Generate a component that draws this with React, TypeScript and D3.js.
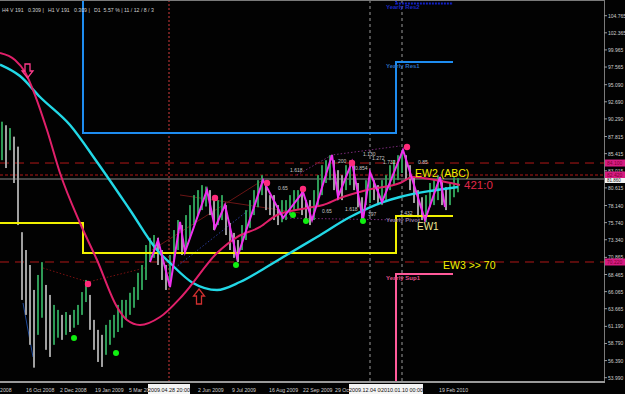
import React from 'react';
import * as d3 from 'd3';

// ---------- DATA ----------
const barHigh = [
  89.9, 89.4, 89.0, 87.8, 86.4, 74.4, 71.9, 69.8, 66.3, 68.4,
  70.2, 67.0, 65.6, 64.2, 63.5, 62.8, 63.2, 62.8, 63.5, 64.2,
  66.0, 67.7, 65.6, 62.1, 60.7, 60.0, 61.4, 62.1, 62.8, 64.2,
  64.9, 64.9, 65.9, 66.7, 68.7, 69.8, 72.6, 73.6, 74.0, 73.6,
  71.9, 69.8, 71.2, 74.7, 76.1, 75.4, 76.8, 78.2, 79.6, 80.3,
  81.0, 80.8, 80.3, 78.9, 78.9, 79.6, 78.2, 75.7, 74.3, 73.3,
  75.4, 77.5, 78.9, 80.3, 81.7, 82.4, 81.0, 79.6, 79.6, 78.2,
  78.9, 78.9, 79.6, 80.3, 80.3, 80.3, 78.9, 78.9, 80.3, 82.4,
  83.8, 84.5, 85.2, 84.5, 83.1, 82.4, 83.8, 84.5, 83.8, 81.3,
  79.3, 81.7, 82.7, 81.7, 81.0, 81.7, 82.4, 83.8, 84.5, 85.2,
  85.9, 85.2, 83.8, 82.1, 80.3, 79.3, 79.6, 81.3, 81.7, 82.4,
  81.7, 80.7, 81.3, 82.1, 82.0,
];
const barLow = [
  84.5, 83.4, 85.9, 81.3, 75.4, 64.9, 62.8, 58.6, 55.4, 60.0,
  62.4, 57.9, 56.9, 58.6, 59.6, 59.3, 60.0, 60.4, 61.0, 61.4,
  62.8, 64.6, 60.7, 57.9, 56.2, 55.5, 57.2, 58.6, 59.6, 60.4,
  61.0, 62.1, 62.8, 63.8, 64.9, 66.3, 67.7, 70.2, 70.8, 69.8,
  67.7, 66.3, 66.7, 70.2, 71.9, 71.2, 72.2, 73.6, 75.4, 76.8,
  77.5, 78.0, 76.8, 74.7, 75.4, 76.1, 74.0, 71.9, 70.8, 70.2,
  71.9, 73.3, 75.0, 76.8, 77.9, 79.6, 77.5, 76.8, 76.1, 75.4,
  75.8, 76.1, 76.8, 77.5, 77.5, 76.8, 75.8, 75.4, 76.1, 78.2,
  79.6, 81.3, 81.7, 80.3, 78.9, 78.9, 80.3, 81.0, 80.3, 77.9,
  76.1, 78.2, 78.5, 78.9, 78.2, 78.2, 78.9, 80.3, 81.0, 81.7,
  82.7, 81.7, 80.3, 78.5, 76.5, 76.1, 75.8, 77.9, 78.2, 78.9,
  78.2, 77.5, 78.2, 79.3, 80.0,
];

const priceTicks = [104.765, 102.365, 99.965, 97.565, 95.09, 92.69, 90.29, 87.815, 85.415, 83.015, 80.615, 78.14, 75.74, 73.34, 70.865, 68.465, 66.065, 63.665, 61.19, 58.79, 56.39, 53.99];

const dateLabels = ['4 Sep 2008', '16 Oct 2008', '2 Dec 2008', '19 Jan 2009', '5 Mar 2009', '2 Jun 2009', '9 Jul 2009', '16 Aug 2009', '22 Sep 2009', '29 Oct 2009', '19 Feb 2010'];
const dateIdx = [-4.25, 6, 14.5, 23.25, 31.75, 49, 57.5, 66.75, 75.25, 83.25, 109.25];

const cyanIdx = [-0.5, 4.5, 9.5, 17, 23.75, 32, 38.75, 42, 47.75, 53.75, 59.5, 65.75, 72, 78.75, 87, 95.25, 99.5, 107, 114];
const cyanVal = [97.9, 96.3, 93.36, 89.43, 84.24, 77.51, 71.9, 70.08, 67.27, 66.29, 67.41, 69.38, 71.48, 73.73, 76.53, 78.63, 79.34, 80.18, 80.74];

const redMaIdx = [-0.5, 3.25, 5.75, 8.25, 11.25, 14.5, 19.5, 23.75, 28.75, 31.25, 34.5, 39.5, 45.25, 53.75, 58.75, 64.5, 68.75, 76.25, 80.25, 84.5, 91.25, 99.5, 102.75, 108.25, 114.5];
const redMaVal = [99.53, 98.55, 96.87, 93.64, 88.73, 82.7, 75.69, 70.5, 63.91, 62.08, 61.38, 62.5, 65.59, 71.48, 73.72, 75.13, 76.81, 77.79, 78.21, 79.2, 80.32, 81.3, 82.14, 81.72, 81.02];

const zigIdx = [37, 39, 42, 44.5, 45.75, 51.25, 53.25, 55.75, 58.75, 65.25, 70.25, 75.25, 77.5, 82.5, 84, 87.5, 90.25, 92, 95, 100.25, 105.75, 109.5, 110.75];
const zigVal = [70.22, 73.3, 66.71, 75.83, 71.62, 80.32, 74.99, 78.21, 70.78, 81.72, 76.39, 80.04, 76.11, 85.23, 79.34, 84.24, 76.11, 82.84, 78.63, 85.93, 76.11, 82.14, 77.93];

const pinkDotIdx = [21.5, 53.25, 66.25, 75.25, 87.5, 101.25];
const pinkDotVal = [67.13, 79.2, 81.3, 80.46, 84.1, 86.35];
const greenDotIdx = [18, 28.5, 58.5, 72.75, 76, 90.25];
const greenDotVal = [59.56, 57.46, 69.8, 76.81, 75.97, 75.97];

// yearly pivot steps (index of change, level)
const pivotIdx = [-1, 20.25, 98.5, 112.75];
const pivotVal = [75.69, 71.48, 76.67, 76.67];
const res1Val = [112, 88.31, 98.27, 98.27];
const res2Val = [118, 118, 106.48, 106.48];
const sup1Val = [45, 45, 68.54, 68.54];

const levelDash = [84.1, 70.22];
const levelDot = [82.42];
const currentPrice = 81.86;

const vLineIdx = [41.75, 92, 100];
const vLineLabels = ['2009.04.28 20:00', '2009.12.04 00:00', '2010.01.10 00:00'];

const fibText = ['1.618', '0.65', '0.65', '1.618', '397', '1.130', '1.272', '1.732', '200', '0.854', '0.85', '1.432'];
const fibIdx = [72, 69, 80, 85.75, 91.5, 90.25, 92.5, 95.25, 84, 88.25, 104, 99.5];
const fibVal = [82.84, 80.32, 77.09, 77.37, 76.67, 85.09, 84.53, 83.97, 84.1, 83.12, 83.97, 76.81];

const waveText = ['EW2 (ABC)', '421:0', 'EW1', 'EW3 >> 70'];
const waveIdx = [103.25, 115.5, 103.75, 110.25];
const waveVal = [82.14, 80.46, 74.71, 69.24];

export default function App() {
  const W = 625, H = 394, R = 604, B = 381;
  const x = d3.scaleLinear().domain([0, 150.5]).range([2, 604]);
  const y = d3.scaleLinear().domain([53.99, 104.765]).range([377.7, 15.7]);
  const mk = (idx: number[], val: number[], curve: any) =>
    d3.line<number>().x((d) => x(idx[d])).y((d) => y(val[d])).curve(curve)(idx.map((_, i) => i)) || '';
  const step = (val: number[]) =>
    d3.line<number>().x((d) => x(pivotIdx[d])).y((d) => y(val[d])).curve(d3.curveStepAfter)(pivotIdx.map((_, i) => i)) || '';

  const font = 'Liberation Sans, Arial, sans-serif';
  const axisFill = '#cfcfcf';

  const dA = { cx: x(6.375), ty: y(96.03) };
  const uA = { cx: x(49.25), ty: y(66.43) };

  return (
    <svg width={W} height={H} style={{ position: 'absolute', left: 0, top: 0, background: '#000' }} fontFamily={font}>
      <defs>
        <clipPath id="plot"><rect x={0} y={0} width={R} height={B} /></clipPath>
        <clipPath id="xaxis"><rect x={0} y={383} width={R} height={11} /></clipPath>
      </defs>
      <rect x={0} y={0} width={W} height={H} fill="#020202" />
      <g clipPath="url(#plot)">
        {levelDash.map((v, i) => (
          <line key={'ld' + i} x1={0} x2={R} y1={y(v)} y2={y(v)} stroke="#b01818" strokeWidth={1} strokeDasharray="9,6" />
        ))}
        {levelDot.map((v, i) => (
          <line key={'lt' + i} x1={0} x2={R} y1={y(v)} y2={y(v)} stroke="#b01818" strokeWidth={1} strokeDasharray="3,2" />
        ))}
        <line x1={0} x2={R} y1={y(currentPrice)} y2={y(currentPrice)} stroke="#8a8a8a" strokeWidth={1} />
        <line x1={x(vLineIdx[0])} x2={x(vLineIdx[0])} y1={0} y2={B} stroke="#d03a3a" strokeDasharray="2,2" />
        <line x1={x(vLineIdx[1])} x2={x(vLineIdx[1])} y1={0} y2={B} stroke="#9a9a9a" strokeDasharray="3,3" />
        <line x1={x(vLineIdx[2])} x2={x(vLineIdx[2])} y1={0} y2={B} stroke="#9a9a9a" strokeDasharray="3,3" />

        <path d={mk([10.25, 21.5, 35.75], [69.38, 67.41, 69.38], d3.curveLinear)} fill="none" stroke="#7a1010" strokeDasharray="1.5,2" />
        <path d={mk([37.5, 65.25], [71.9, 81.72], d3.curveLinear)} fill="none" stroke="#6a1515" strokeWidth={1} />
        <path d={mk([44.5, 74.5], [79.62, 77.09], d3.curveLinear)} fill="none" stroke="#6a1515" strokeWidth={1} />
        <path d={mk([43.25, 63.25], [69.38, 78.21], d3.curveLinear)} fill="none" stroke="#2a3c9a" strokeDasharray="1.5,2" />
        <path d={mk([73.75, 82.5, 99.5], [82.42, 85.23, 86.49], d3.curveLinear)} fill="none" stroke="#7a2a7a" strokeDasharray="1.5,2" />
        <path d={mk([70.25, 99.5], [76.39, 76.11], d3.curveLinear)} fill="none" stroke="#7a2a7a" strokeDasharray="1.5,2" />
        <path d={mk([5.25, 7.75], [64.47, 56.89], d3.curveLinear)} fill="none" stroke="#1e4a9c" strokeWidth={1} />

        {barHigh.map((h, i) => {
          const l = barLow[i];
          const up = i === 0 || h + l >= barHigh[i - 1] + barLow[i - 1];
          return (
            <rect key={'b' + i} x={x(i) - 1} width={2} y={y(h)} height={Math.max(1, y(l) - y(h))} fill={up ? '#2e9a56' : '#a0a0a0'} />
          );
        })}

        <path d={step(res2Val)} fill="none" stroke="#1020c8" strokeWidth={2} strokeDasharray="2,1" />
        <path d={step(res1Val)} fill="none" stroke="#1e8cf0" strokeWidth={2} />
        <path d={step(pivotVal)} fill="none" stroke="#f0f000" strokeWidth={2} />
        <path d={step(sup1Val)} fill="none" stroke="#ff5a9a" strokeWidth={2} />

        <path d={mk(cyanIdx, cyanVal, d3.curveMonotoneX)} fill="none" stroke="#22d8e6" strokeWidth={2.4} />
        <path d={mk(redMaIdx, redMaVal, d3.curveMonotoneX)} fill="none" stroke="#e0206a" strokeWidth={2} />

        <path d={mk(zigIdx, zigVal, d3.curveLinear)} fill="none" stroke="#f030f0" strokeWidth={2} />

        {pinkDotIdx.map((v, i) => (
          <circle key={'pd' + i} cx={x(v)} cy={y(pinkDotVal[i])} r={3.2} fill="#ff2a7a" />
        ))}
        {greenDotIdx.map((v, i) => (
          <circle key={'gd' + i} cx={x(v)} cy={y(greenDotVal[i])} r={3} fill="#10f010" />
        ))}

        <path d={`M${dA.cx - 2.5},${dA.ty - 14} h5 v7 h3 l-5.5,7 l-5.5,-7 h3 z`} fill="none" stroke="#ff3c8c" strokeWidth={1.3} />
        <path d={`M${uA.cx},${uA.ty} l5.5,7 h-3 v8 h-5 v-8 h-3 z`} fill="none" stroke="#d03030" strokeWidth={1.3} />

        <text x={x(96)} y={y(106.48) + 6} fontSize={6} fontWeight="bold" fill="#1a28c8">Yearly Res2</text>
        <text x={x(96)} y={y(98.27) + 6} fontSize={6} fontWeight="bold" fill="#2a70c0">Yearly Res1</text>
        <text x={x(96)} y={y(76.67) + 6} fontSize={6} fontWeight="bold" fill="#8c78a0">Yearly Pivot</text>
        <text x={x(96)} y={y(68.54) + 6} fontSize={6} fontWeight="bold" fill="#e0508a">Yearly Sup1</text>

        {fibText.map((t, i) => (
          <text key={'f' + i} x={x(fibIdx[i])} y={y(fibVal[i])} fontSize={5} fill="#c8c8c8">{t}</text>
        ))}

        <text x={x(waveIdx[0])} y={y(waveVal[0])} fontSize={10.5} fill="#f4f000">{waveText[0]}</text>
        <text x={x(waveIdx[1])} y={y(waveVal[1])} fontSize={11.5} fill="#e0284a">{waveText[1]}</text>
        <text x={x(waveIdx[2])} y={y(waveVal[2])} fontSize={10} fill="#f0e890">{waveText[2]}</text>
        <text x={x(waveIdx[3])} y={y(waveVal[3])} fontSize={10.5} fill="#f4f000">{waveText[3]}</text>
      </g>

      <line x1={0} x2={R} y1={0.5} y2={0.5} stroke="#7a7a7a" />
      <line x1={R + 0.5} x2={R + 0.5} y1={0} y2={383} stroke="#7a7a7a" />
      <rect x={0} y={381} width={R + 1} height={2} fill="#9a9a9a" />

      <text x={2} y={12} fontSize={5.2} fill="#d0d0d0" style={{ whiteSpace: 'pre' }}>
        {'H4 V 191   0.309 |   H1 V 191   0.309 |   D1  5.57 % | 11 / 12 / 8 / 3'}
      </text>

      {priceTicks.map((v, i) => (
        <g key={'pt' + i}>
          <line x1={R} x2={R + 3} y1={y(v)} y2={y(v)} stroke="#9a9a9a" />
          <text x={608} y={y(v) + 2} fontSize={5} fill={axisFill}>{v.toFixed(3)}</text>
        </g>
      ))}
      {[...levelDash, ...levelDot].map((v, i) => (
        <g key={'lb' + i}>
          <rect x={605} y={y(v) - 3.5} width={20} height={7} fill="#d81b82" />
          <text x={607} y={y(v) + 2} fontSize={5} fill="#7a0030">{v.toFixed(3)}</text>
        </g>
      ))}
      <rect x={605} y={y(currentPrice) - 1} width={20} height={5} fill="#f4f4f4" />
      <text x={607} y={y(currentPrice) + 3} fontSize={4.5} fill="#202020">{currentPrice.toFixed(3)}</text>

      <g clipPath="url(#xaxis)">
        {dateLabels.map((t, i) => (
          <text key={'dl' + i} x={x(dateIdx[i])} y={392} fontSize={5.2} fill={axisFill}>{t}</text>
        ))}
        {vLineLabels.map((t, i) => (
          <g key={'vl' + i}>
            <rect x={x(vLineIdx[i]) - 21} y={384} width={42} height={10} fill="#f4f4f4" />
            <text x={x(vLineIdx[i])} y={392} fontSize={5.4} fill="#101010" textAnchor="middle">{t}</text>
          </g>
        ))}
      </g>
    </svg>
  );
}
